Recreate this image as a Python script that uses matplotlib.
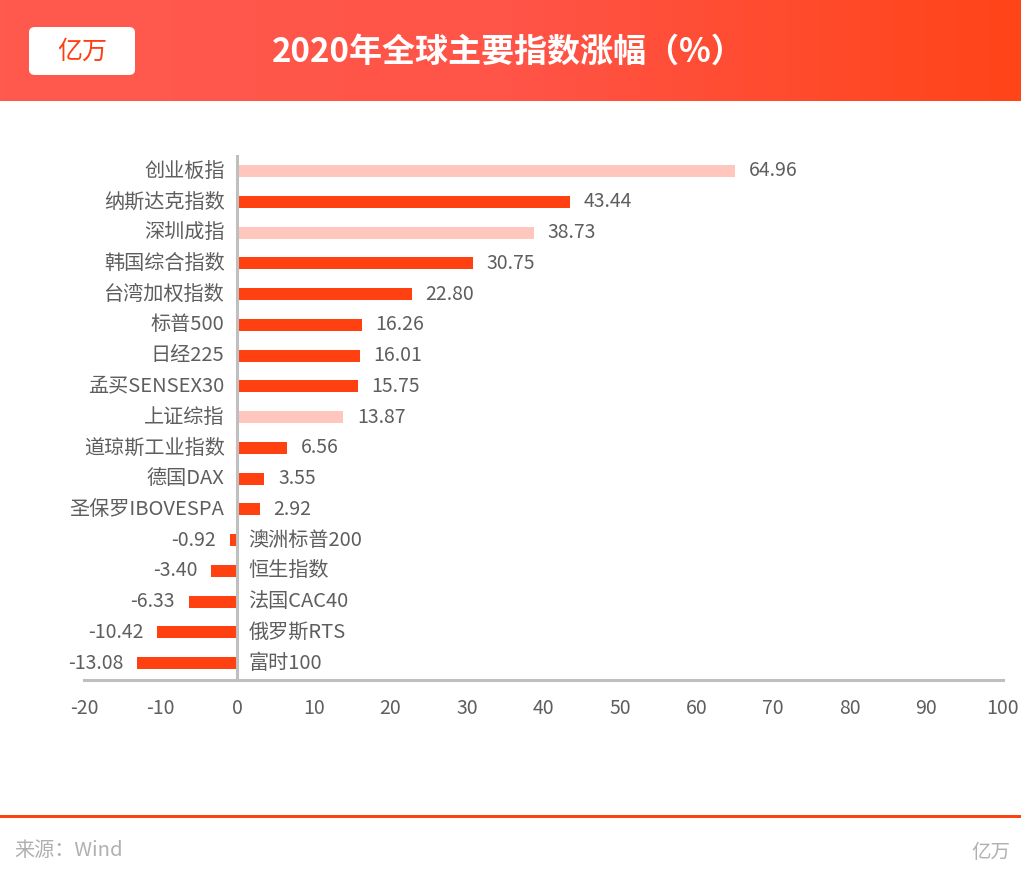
import matplotlib
matplotlib.use("Agg")
import matplotlib.pyplot as plt
import numpy as np
from matplotlib.patches import FancyBboxPatch, Rectangle
from matplotlib.colors import LinearSegmentedColormap

plt.rcParams['font.family'] = ['Noto Sans CJK SC', 'DejaVu Sans']

categories = ["创业板指", "纳斯达克指数", "深圳成指", "韩国综合指数", "台湾加权指数",
              "标普500", "日经225", "孟买SENSEX30", "上证综指", "道琼斯工业指数",
              "德国DAX", "圣保罗IBOVESPA", "澳洲标普200", "恒生指数", "法国CAC40",
              "俄罗斯RTS", "富时100"]
values = [64.96, 43.44, 38.73, 30.75, 22.80, 16.26, 16.01, 15.75, 13.87, 6.56,
          3.55, 2.92, -0.92, -3.40, -6.33, -10.42, -13.08]
value_labels = ["64.96", "43.44", "38.73", "30.75", "22.80", "16.26", "16.01", "15.75",
                "13.87", "6.56", "3.55", "2.92", "-0.92", "-3.40", "-6.33", "-10.42", "-13.08"]
highlight = [True, False, True, False, False, False, False, False, True,
             False, False, False, False, False, False, False, False]
xticks = [-20, -10, 0, 10, 20, 30, 40, 50, 60, 70, 80, 90, 100]

DARK = "#FF4010"
LIGHT = "#FFC6BD"
TXT = "#5E5E5E"
LW = "light"

W, H = 1021, 886
fig = plt.figure(figsize=(W / 100, H / 100), dpi=100)

# header gradient band
hdr = fig.add_axes([0, 1 - 101 / H, 1, 101 / H])
grad = np.linspace(0, 1, 256).reshape(1, -1)
cmap = LinearSegmentedColormap.from_list("hdr", ["#FF5A4E", "#FF5448", "#FF4418"])
hdr.imshow(grad, aspect="auto", cmap=cmap, extent=[0, 1, 0, 1])
hdr.set_xlim(0, 1)
hdr.set_ylim(0, 1)
hdr.axis("off")

# logo box
fig.patches.append(FancyBboxPatch((29 / W, 1 - 75 / H), 106 / W, 48 / H,
                                  boxstyle="round,pad=0,rounding_size=0.006",
                                  transform=fig.transFigure, facecolor="white",
                                  edgecolor="none", zorder=5))
fig.text(82 / W, 1 - 52 / H, "亿万", color="#FF3D10", fontsize=18, ha="center",
         va="center", zorder=6, fontweight=LW)
fig.text(508 / W, 1 - 52 / H, "2020年全球主要指数涨幅（%）", color="white",
         fontsize=23.8, fontweight="black", ha="center", va="center", zorder=6)

# main axes
left, right = 84 / W, 1003 / W
top, bottom = 155 / H, 680 / H
ax = fig.add_axes([left, 1 - bottom, right - left, bottom - top])
y = np.arange(len(categories))
colors = [LIGHT if h else DARK for h in highlight]
ax.barh(y, values, height=0.39, color=colors, zorder=2)
ax.set_xlim(-20, 100)
ax.set_ylim(len(categories) - 0.45, -0.52)
ax.set_xticks(xticks)
ax.set_xticklabels([str(t) for t in xticks], fontsize=14, color=TXT, fontweight=LW)
ax.tick_params(axis="x", length=0, pad=13)
ax.set_yticks([])
for s in ["top", "right", "left"]:
    ax.spines[s].set_visible(False)
ax.spines["bottom"].set_color("#BFBFBF")
ax.spines["bottom"].set_linewidth(2.2)
ax.axvline(0, color="#BFBFBF", lw=2.2, zorder=3)

for yi, v, lab, cat in zip(y, values, value_labels, categories):
    if v >= 0:
        ax.annotate(cat, (0, yi), xytext=(-9, 0), textcoords="offset points",
                    ha="right", va="center", fontsize=14.5, color=TXT, fontweight=LW)
        ax.annotate(lab, (v, yi), xytext=(10, 0), textcoords="offset points",
                    ha="left", va="center", fontsize=14, color=TXT, fontweight=LW)
    else:
        ax.annotate(cat, (0, yi), xytext=(8, 0), textcoords="offset points",
                    ha="left", va="center", fontsize=14.5, color=TXT, fontweight=LW)
        ax.annotate(lab, (v, yi), xytext=(-10, 0), textcoords="offset points",
                    ha="right", va="center", fontsize=14, color=TXT, fontweight=LW)

# footer
fig.patches.append(Rectangle((0, 1 - 817.5 / H), 1, 3 / H, transform=fig.transFigure,
                             facecolor="#FF4010", edgecolor="none"))
fig.text(14 / W, 1 - 850 / H, "来源：Wind", color="#B0B0B0", fontsize=14.5,
         ha="left", va="center", fontweight=LW)
fig.text(1010 / W, 1 - 852 / H, "亿万", color="#B0B0B0", fontsize=14,
         ha="right", va="center", fontweight=LW)

fig.savefig("out.png", dpi=100, facecolor="white")
